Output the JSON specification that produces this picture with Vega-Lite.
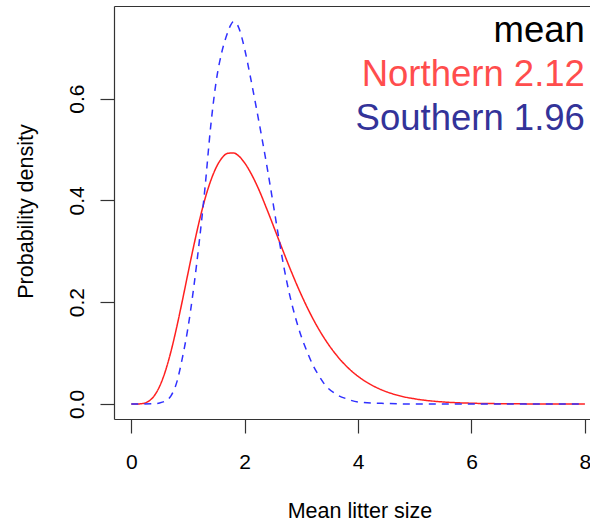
{
  "$schema": "https://vega.github.io/schema/vega-lite/v6.json",
  "autosize": {"type": "none"},
  "width": 476,
  "height": 413,
  "padding": {"left": 114, "top": 6, "right": 0, "bottom": 103},
  "background": "white",
  "view": {"stroke": null},
  "config": {
    "font": "Liberation Sans",
    "axis": {"grid": false, "labelFont": "Liberation Sans", "titleFont": "Liberation Sans", "labelColor": "black", "titleColor": "black", "domainColor": "#333333", "tickColor": "#333333", "domainWidth": 1.2, "tickWidth": 1.2}
  },
  "layer": [
    {
      "data": {"values": [
        {"series": "Northern", "x": 0, "y": 0},
        {"series": "Northern", "x": 0.1, "y": 0.00004},
        {"series": "Northern", "x": 0.2, "y": 0.0009},
        {"series": "Northern", "x": 0.3, "y": 0.005},
        {"series": "Northern", "x": 0.4, "y": 0.0154},
        {"series": "Northern", "x": 0.5, "y": 0.0348},
        {"series": "Northern", "x": 0.6, "y": 0.0642},
        {"series": "Northern", "x": 0.7, "y": 0.1034},
        {"series": "Northern", "x": 0.8, "y": 0.1505},
        {"series": "Northern", "x": 0.9, "y": 0.2027},
        {"series": "Northern", "x": 1.0, "y": 0.2569},
        {"series": "Northern", "x": 1.1, "y": 0.310},
        {"series": "Northern", "x": 1.2, "y": 0.3596},
        {"series": "Northern", "x": 1.3, "y": 0.403},
        {"series": "Northern", "x": 1.4, "y": 0.4384},
        {"series": "Northern", "x": 1.5, "y": 0.4654},
        {"series": "Northern", "x": 1.6, "y": 0.4835},
        {"series": "Northern", "x": 1.7, "y": 0.4926},
        {"series": "Northern", "x": 1.8, "y": 0.4933},
        {"series": "Northern", "x": 1.9, "y": 0.4868},
        {"series": "Northern", "x": 2.0, "y": 0.4735},
        {"series": "Northern", "x": 2.2, "y": 0.4334},
        {"series": "Northern", "x": 2.4, "y": 0.3803},
        {"series": "Northern", "x": 2.6, "y": 0.3227},
        {"series": "Northern", "x": 2.8, "y": 0.2661},
        {"series": "Northern", "x": 3.0, "y": 0.2140},
        {"series": "Northern", "x": 3.2, "y": 0.1683},
        {"series": "Northern", "x": 3.4, "y": 0.1299},
        {"series": "Northern", "x": 3.6, "y": 0.0986},
        {"series": "Northern", "x": 3.8, "y": 0.0736},
        {"series": "Northern", "x": 4.0, "y": 0.0543},
        {"series": "Northern", "x": 4.2, "y": 0.0396},
        {"series": "Northern", "x": 4.4, "y": 0.0285},
        {"series": "Northern", "x": 4.6, "y": 0.0203},
        {"series": "Northern", "x": 4.8, "y": 0.0143},
        {"series": "Northern", "x": 5.0, "y": 0.0101},
        {"series": "Northern", "x": 5.5, "y": 0.0040},
        {"series": "Northern", "x": 6.0, "y": 0.0015},
        {"series": "Northern", "x": 6.5, "y": 0.0006},
        {"series": "Northern", "x": 7.0, "y": 0.0002},
        {"series": "Northern", "x": 7.5, "y": 0.0001},
        {"series": "Northern", "x": 8.0, "y": 0},
        {"series": "Southern", "x": 0, "y": 0},
        {"series": "Southern", "x": 0.2, "y": 0},
        {"series": "Southern", "x": 0.4, "y": 0.0005},
        {"series": "Southern", "x": 0.5, "y": 0.002},
        {"series": "Southern", "x": 0.6, "y": 0.006},
        {"series": "Southern", "x": 0.7, "y": 0.016},
        {"series": "Southern", "x": 0.8, "y": 0.042},
        {"series": "Southern", "x": 0.9, "y": 0.090},
        {"series": "Southern", "x": 1.0, "y": 0.150},
        {"series": "Southern", "x": 1.1, "y": 0.228},
        {"series": "Southern", "x": 1.2, "y": 0.320},
        {"series": "Southern", "x": 1.3, "y": 0.425},
        {"series": "Southern", "x": 1.4, "y": 0.545},
        {"series": "Southern", "x": 1.5, "y": 0.636},
        {"series": "Southern", "x": 1.6, "y": 0.693},
        {"series": "Southern", "x": 1.7, "y": 0.730},
        {"series": "Southern", "x": 1.75, "y": 0.744},
        {"series": "Southern", "x": 1.8, "y": 0.751},
        {"series": "Southern", "x": 1.85, "y": 0.749},
        {"series": "Southern", "x": 1.9, "y": 0.738},
        {"series": "Southern", "x": 2.0, "y": 0.697},
        {"series": "Southern", "x": 2.1, "y": 0.643},
        {"series": "Southern", "x": 2.2, "y": 0.585},
        {"series": "Southern", "x": 2.3, "y": 0.525},
        {"series": "Southern", "x": 2.4, "y": 0.462},
        {"series": "Southern", "x": 2.5, "y": 0.395},
        {"series": "Southern", "x": 2.6, "y": 0.327},
        {"series": "Southern", "x": 2.7, "y": 0.264},
        {"series": "Southern", "x": 2.8, "y": 0.211},
        {"series": "Southern", "x": 2.9, "y": 0.168},
        {"series": "Southern", "x": 3.0, "y": 0.132},
        {"series": "Southern", "x": 3.1, "y": 0.103},
        {"series": "Southern", "x": 3.2, "y": 0.077},
        {"series": "Southern", "x": 3.3, "y": 0.057},
        {"series": "Southern", "x": 3.4, "y": 0.040},
        {"series": "Southern", "x": 3.6, "y": 0.020},
        {"series": "Southern", "x": 3.8, "y": 0.010},
        {"series": "Southern", "x": 4.0, "y": 0.004},
        {"series": "Southern", "x": 4.5, "y": 0.001},
        {"series": "Southern", "x": 5.0, "y": 0},
        {"series": "Southern", "x": 6.0, "y": 0},
        {"series": "Southern", "x": 7.0, "y": 0},
        {"series": "Southern", "x": 8.0, "y": 0}
      ]},
      "mark": {"type": "line", "interpolate": "monotone", "strokeWidth": 1.5, "clip": true},
      "encoding": {
        "x": {"field": "x", "type": "quantitative",
              "scale": {"domain": [-0.305, 8.09], "nice": false, "zero": false},
              "axis": {"orient": "bottom", "values": [0, 2, 4, 6, 8], "format": "d", "tickSize": 14, "labelPadding": 18, "labelFontSize": 21, "labelFlush": false, "labelOverlap": false, "title": "Mean litter size", "titleFontSize": 21.5, "titleFontWeight": "normal", "titleX": 245.5, "titleY": 98, "titleBaseline": "alphabetic", "titleAlign": "center"}},
        "y": {"field": "y", "type": "quantitative",
              "scale": {"domain": [-0.0295, 0.782], "nice": false, "zero": false},
              "axis": {"values": [0, 0.2, 0.4, 0.6], "format": ".1f", "tickSize": 14, "labelPadding": 17, "labelFontSize": 21, "labelAngle": -90, "labelAlign": "center", "labelBaseline": "alphabetic", "labelFlush": false, "labelOverlap": false, "title": "Probability density", "titleFontSize": 21.5, "titleFontWeight": "normal", "titleX": -82, "titleY": 205, "titleAngle": -90, "titleBaseline": "alphabetic", "titleAlign": "center"}},
        "stroke": {"field": "series", "type": "nominal", "scale": {"domain": ["Northern", "Southern"], "range": ["#ff2020", "#3030ff"]}, "legend": null},
        "strokeDash": {"field": "series", "type": "nominal", "scale": {"domain": ["Northern", "Southern"], "range": [[1, 0], [7, 6]]}, "legend": null}
      }
    },
    {
      "data": {"values": [
        {"label": "mean", "grp": "mean", "x": 8.0, "y": 0.7118},
        {"label": "Northern 2.12", "grp": "Northern", "x": 8.0, "y": 0.6248},
        {"label": "Southern 1.96", "grp": "Southern", "x": 8.0, "y": 0.5383}
      ]},
      "mark": {"type": "text", "align": "right", "baseline": "alphabetic", "fontSize": 36.5, "font": "Liberation Sans"},
      "encoding": {
        "x": {"field": "x", "type": "quantitative",
              "axis": {"orient": "top", "labels": false, "ticks": false, "title": null, "domain": true, "grid": false}},
        "y": {"field": "y", "type": "quantitative", "axis": {"orient": "right", "labels": false, "ticks": false, "title": null, "domain": false, "grid": false}},
        "text": {"field": "label"},
        "fill": {"field": "grp", "type": "nominal", "scale": {"domain": ["mean", "Northern", "Southern"], "range": ["#000000", "#ff4d4d", "#333399"]}, "legend": null}
      }
    }
  ],
  "resolve": {"axis": {"x": "independent", "y": "independent"}}
}
